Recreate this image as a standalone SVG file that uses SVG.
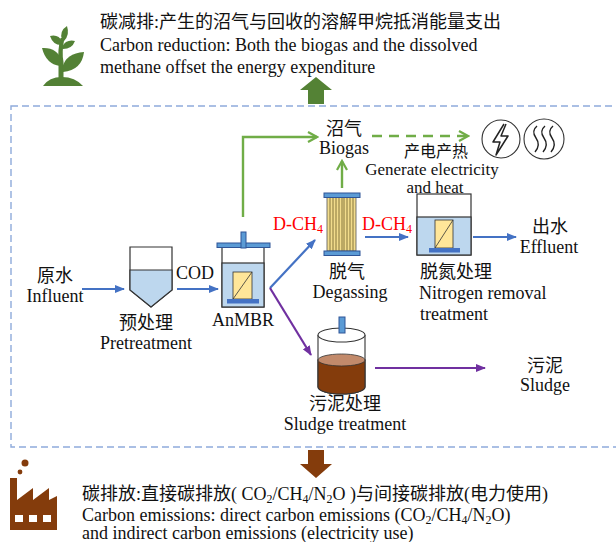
<svg xmlns="http://www.w3.org/2000/svg" width="616" height="542" viewBox="0 0 616 542">
  <style>
    text { font-family: "Liberation Serif", "Noto Sans CJK SC", serif; font-size: 18px; fill: #111; }
    .c { text-anchor: middle; }
    .red { fill: #FF0000; }
    .sub { font-size: 12px; }
    .blue { stroke: #4472C4; stroke-width: 2.2; fill: none; }
    .green { stroke: #70AD47; stroke-width: 2.4; fill: none; }
    .purple { stroke: #7030A0; stroke-width: 2.2; fill: none; }
    .outline { stroke: #333; stroke-width: 1.2; }
    .plate { fill: #5B9BD5; stroke: #2F5597; stroke-width: 1; }
  </style>
  <defs>
    <marker id="ahBlue" markerUnits="userSpaceOnUse" markerWidth="10" markerHeight="8" refX="9" refY="4" orient="auto">
      <path d="M0,0 L10,4 L0,8 Z" fill="#4472C4"/>
    </marker>
    <marker id="ahPurple" markerUnits="userSpaceOnUse" markerWidth="10" markerHeight="8" refX="9" refY="4" orient="auto">
      <path d="M0,0 L10,4 L0,8 Z" fill="#7030A0"/>
    </marker>
    <marker id="ahGreen" markerUnits="userSpaceOnUse" markerWidth="12" markerHeight="12" refX="10" refY="6" orient="auto">
      <path d="M1,1 L10,6 L1,11" fill="none" stroke="#70AD47" stroke-width="2.2"/>
    </marker>
  </defs>

  <!-- system boundary -->
  <rect x="11" y="106" width="640" height="341" fill="none" stroke="#8EAADB" stroke-width="1.4" stroke-dasharray="7 4"/>

  <!-- carbon reduction (top) -->
  <g id="carbon-reduction">
    <g id="plant-icon" fill="#538135">
      <path d="M43,86 Q49,77 62,77 Q75,77 83,86 Z"/>
      <path d="M58.5,80 L58.5,62 Q57.5,50 60.5,38 L64.5,38 Q61.5,52 63.5,62 L63.5,80 Z"/>
      <path d="M60,66 Q46,64 42,48 Q57,47 62,61 Z"/>
      <path d="M62,68 Q66,53 84,52 Q82,70 63,72 Z"/>
      <path d="M61,45 Q53,45 50,36 Q59,34 62,42 Z"/>
      <path d="M62,47 Q66,39 75,41 Q72,49 63,49 Z"/>
      <path d="M62,40 Q59,31 67,26 Q70,35 64,41 Z"/>
    </g>
    <text x="100" y="28">碳减排:产生的沼气与回收的溶解甲烷抵消能量支出</text>
    <text x="100" y="51">Carbon reduction: Both the biogas and the dissolved</text>
    <text x="100" y="73">methane offset the energy expenditure</text>
    <path d="M308,104 L308,90 L300,90 L316,77 L332,90 L324,90 L324,104 Z" fill="#548235"/>
  </g>

  <!-- connectors -->
  <g id="connectors">
    <line class="blue" x1="82" y1="289" x2="124" y2="289" marker-end="url(#ahBlue)"/>
    <line class="blue" x1="177" y1="289" x2="218" y2="289" marker-end="url(#ahBlue)"/>
    <polyline class="green" points="243,217 243,137 317,137" marker-end="url(#ahGreen)"/>
    <line class="green" x1="342" y1="188" x2="342" y2="161" marker-end="url(#ahGreen)"/>
    <line class="green" x1="372" y1="136" x2="468" y2="136" stroke-dasharray="10 7" marker-end="url(#ahGreen)"/>
    <polyline class="blue" points="270,288 315,240" marker-end="url(#ahBlue)"/>
    <line class="blue" x1="365" y1="237" x2="408" y2="237" marker-end="url(#ahBlue)"/>
    <line class="blue" x1="473" y1="237" x2="516" y2="237" marker-end="url(#ahBlue)"/>
    <line class="purple" x1="270" y1="288" x2="311" y2="355" marker-end="url(#ahPurple)"/>
    <line class="purple" x1="375" y1="368" x2="485" y2="368" marker-end="url(#ahPurple)"/>
  </g>

  <!-- influent -->
  <g id="influent">
    <text class="c" x="55" y="282">原水</text>
    <text class="c" x="55" y="302">Influent</text>
  </g>

  <!-- pretreatment -->
  <g id="pretreatment">
    <path d="M130,247 L172,247 L172,290 L151,307 L130,290 Z" fill="#fff" class="outline"/>
    <path d="M130,270 L172,270 L172,290 L151,307 L130,290 Z" fill="#BDD7EE" class="outline"/>
    <text class="c" x="146" y="329">预处理</text>
    <text class="c" x="146" y="349">Pretreatment</text>
  </g>

  <text x="176" y="279">COD</text>

  <!-- AnMBR -->
  <g id="anmbr">
    <rect x="222" y="247" width="42" height="60" fill="#fff" class="outline"/>
    <rect x="222" y="263" width="42" height="44" fill="#BDD7EE" class="outline"/>
    <rect x="233" y="272" width="19" height="27" fill="#FFE699" stroke="#333" stroke-width="0.8"/>
    <line x1="233" y1="299" x2="252" y2="272" stroke="#333" stroke-width="0.8"/>
    <rect x="227" y="299" width="32" height="4.5" fill="#4472C4"/>
    <rect x="217" y="243" width="53" height="4.5" class="plate"/>
    <rect x="241" y="232" width="5" height="16" class="plate"/>
    <text class="c" x="243" y="326">AnMBR</text>
  </g>

  <!-- biogas and energy recovery -->
  <g id="biogas">
    <text class="c" x="344" y="135">沼气</text>
    <text class="c" x="344" y="154">Biogas</text>
  </g>
  <g id="energy">
    <circle cx="501" cy="139" r="19" fill="#fff" stroke="#333" stroke-width="1.1"/>
    <path d="M504,124 L493,142 L500,142 L496,155 L508,136 L501,136 L506,124" fill="none" stroke="#222" stroke-width="1.5" stroke-linejoin="round"/>
    <circle cx="544" cy="139" r="20" fill="#fff" stroke="#333" stroke-width="1.1"/>
    <g fill="none" stroke="#222" stroke-width="1.4">
      <path d="M537,126 Q531,131 536,138 Q541,145 535,152"/>
      <path d="M545,126 Q539,131 544,138 Q549,145 543,152"/>
      <path d="M553,126 Q547,131 552,138 Q557,145 551,152"/>
    </g>
    <text class="c" x="436" y="157" style="font-size:16px">产电产热</text>
    <text class="c" x="432" y="175" style="font-size:17px">Generate electricity</text>
    <text class="c" x="435" y="193" style="font-size:17px">and heat</text>
  </g>

  <!-- dissolved methane labels -->
  <text class="red" x="273" y="230">D-CH<tspan class="sub" dy="3">4</tspan></text>
  <text class="red" x="362" y="230">D-CH<tspan class="sub" dy="3">4</tspan></text>

  <!-- degassing membrane column -->
  <g id="degassing">
    <rect x="327" y="197" width="29" height="54" fill="#F2DC8C" stroke="#555" stroke-width="0.8"/>
    <g stroke="#6B5A2A" stroke-width="0.8">
      <line x1="330" y1="197" x2="330" y2="251"/>
      <line x1="333" y1="197" x2="333" y2="251"/>
      <line x1="336" y1="197" x2="336" y2="251"/>
      <line x1="339" y1="197" x2="339" y2="251"/>
      <line x1="342" y1="197" x2="342" y2="251"/>
      <line x1="344" y1="197" x2="344" y2="251"/>
      <line x1="347" y1="197" x2="347" y2="251"/>
      <line x1="350" y1="197" x2="350" y2="251"/>
      <line x1="353" y1="197" x2="353" y2="251"/>
    </g>
    <rect x="324" y="193" width="36" height="4.5" class="plate"/>
    <rect x="324" y="251" width="36" height="4.5" class="plate"/>
    <text class="c" x="347" y="278">脱气</text>
    <text class="c" x="350" y="298">Degassing</text>
  </g>

  <!-- nitrogen removal -->
  <g id="nitrogen-removal">
    <rect x="417" y="194" width="54" height="61" fill="#fff" class="outline"/>
    <rect x="417" y="217" width="54" height="38" fill="#BDD7EE" class="outline"/>
    <rect x="435" y="220" width="18" height="28" fill="#FFE699" stroke="#333" stroke-width="0.8"/>
    <line x1="435" y1="248" x2="453" y2="220" stroke="#333" stroke-width="0.8"/>
    <rect x="429" y="248" width="31" height="4.5" fill="#4472C4"/>
    <text x="420" y="278">脱氮处理</text>
    <text x="419" y="299">Nitrogen removal</text>
    <text x="420" y="320">treatment</text>
  </g>

  <!-- effluent -->
  <g id="effluent">
    <text class="c" x="550" y="233">出水</text>
    <text class="c" x="549" y="253">Effluent</text>
  </g>

  <!-- sludge treatment -->
  <g id="sludge-treatment">
    <path d="M318,335 L318,387 A23.5,7 0 0 0 365,387 L365,335" fill="#fff" stroke="#333" stroke-width="1.1"/>
    <path d="M318,360 L318,387 A23.5,7 0 0 0 365,387 L365,360 Z" fill="#843C0C" stroke="#333" stroke-width="1.1"/>
    <ellipse cx="341.5" cy="360" rx="23.5" ry="6" fill="#C28A6B" stroke="#333" stroke-width="0.8"/>
    <ellipse cx="341.5" cy="335" rx="23.5" ry="7" fill="#fff" stroke="#333" stroke-width="1.1"/>
    <rect x="339" y="317" width="6" height="16" class="plate"/>
    <text class="c" x="345" y="410">污泥处理</text>
    <text class="c" x="345" y="430">Sludge treatment</text>
  </g>

  <!-- sludge output -->
  <g id="sludge">
    <text class="c" x="545" y="372">污泥</text>
    <text class="c" x="545" y="391">Sludge</text>
  </g>

  <!-- carbon emissions (bottom) -->
  <g id="carbon-emissions">
    <path d="M308,450 L324,450 L324,464 L332,464 L316,478 L300,464 L308,464 Z" fill="#843C0C"/>
    <g id="factory-icon" fill="#843C0C">
      <circle cx="25" cy="463" r="3.5"/>
      <circle cx="20" cy="472" r="2.4"/>
      <path d="M10,530 L10,478 L17,478 L17,500 L33,488 L33,500 L49,488 L49,500 L57,496 L57,530 Z"/>
    </g>
    <g fill="#fff">
      <rect x="15" y="515" width="8" height="7"/>
      <rect x="29" y="515" width="8" height="7"/>
      <rect x="43" y="515" width="8" height="7"/>
    </g>
    <text x="82" y="500">碳排放:直接碳排放( CO<tspan class="sub" dy="3">2</tspan><tspan dy="-3">/CH</tspan><tspan class="sub" dy="3">4</tspan><tspan dy="-3">/N</tspan><tspan class="sub" dy="3">2</tspan><tspan dy="-3">O )与间接碳排放(电力使用)</tspan></text>
    <text x="82" y="521">Carbon emissions: direct carbon emissions (CO<tspan class="sub" dy="3">2</tspan><tspan dy="-3">/CH</tspan><tspan class="sub" dy="3">4</tspan><tspan dy="-3">/N</tspan><tspan class="sub" dy="3">2</tspan><tspan dy="-3">O)</tspan></text>
    <text x="82" y="539">and indirect carbon emissions (electricity use)</text>
  </g>
</svg>
